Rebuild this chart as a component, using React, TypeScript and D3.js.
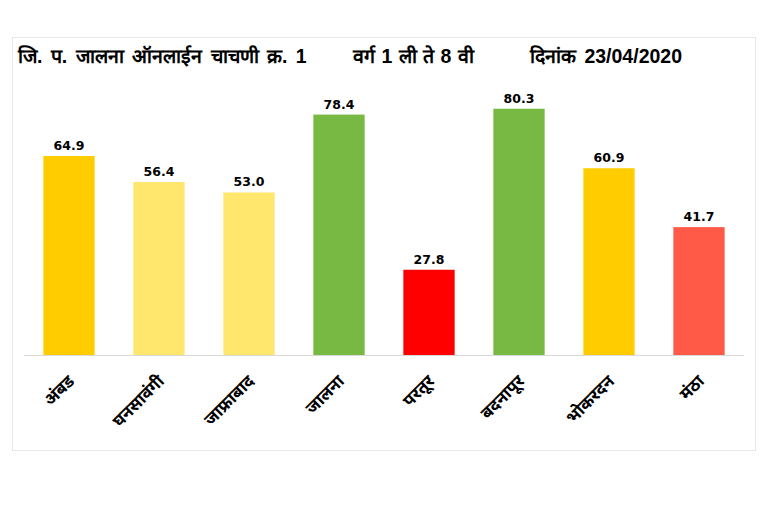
import React from "react";
import * as d3 from "d3";

const categories = ["अंबड", "घनसावंगी", "जाफ्राबाद", "जालना", "परतूर", "बदनापूर", "भोकरदन", "मंठा"];
const values = [64.9, 56.4, 53.0, 78.4, 27.8, 80.3, 60.9, 41.7];
const colors = ["#FFCC00", "#FFE76E", "#FFE76E", "#78B943", "#FF0000", "#78B943", "#FFCC00", "#FF5A47"];
const titleParts = ["जि. प. जालना ऑनलाईन चाचणी क्र. 1", "वर्ग 1 ली ते 8 वी", "दिनांक 23/04/2020"];

export default function App() {
  const W = 768, H = 512;
  const x = d3.scaleBand<string>().domain(categories).range([24, 744]).paddingInner(0.43).paddingOuter(0.215);
  const y = d3.scaleLinear().domain([0, 90]).range([355, 79]);
  const titleX = [18, 353, 530];
  const titleWS = [3, 1, 3];
  return (
    <svg width={W} height={H} style={{ position: "absolute", left: 0, top: 0, background: "#fff" }}>
      <rect x={12.5} y={37.5} width={743} height={413} fill="#fff" stroke="#E6E6E6" strokeWidth={1} />
      {titleParts.map((t, i) => (
        <text key={i} x={titleX[i]} y={63} fontFamily="'Liberation Sans', Arial, sans-serif" fontWeight="bold" fontSize={19.5} wordSpacing={titleWS[i]} fill="#000">{t}</text>
      ))}
      {categories.map((c, i) => (
        <g key={c}>
          <rect x={x(c)} y={y(values[i])} width={x.bandwidth()} height={y(0) - y(values[i])} fill={colors[i]} />
          <text x={x(c)! + x.bandwidth() / 2} y={y(values[i]) - 6} textAnchor="middle" fontFamily="'DejaVu Sans', Verdana, sans-serif" fontWeight="bold" fontSize={12.5} fill="#000">{values[i].toFixed(1)}</text>
          <text transform={`translate(${x(c)! + x.bandwidth() / 2 + 3},${379}) rotate(-45)`} textAnchor="end" dominantBaseline="middle" fontFamily="'Noto Sans', sans-serif" fontWeight="bold" fontSize={17} fill="#000">{c}</text>
        </g>
      ))}
      <line x1={24} x2={744} y1={355.5} y2={355.5} stroke="#D9D9D9" strokeWidth={1} />
    </svg>
  );
}
